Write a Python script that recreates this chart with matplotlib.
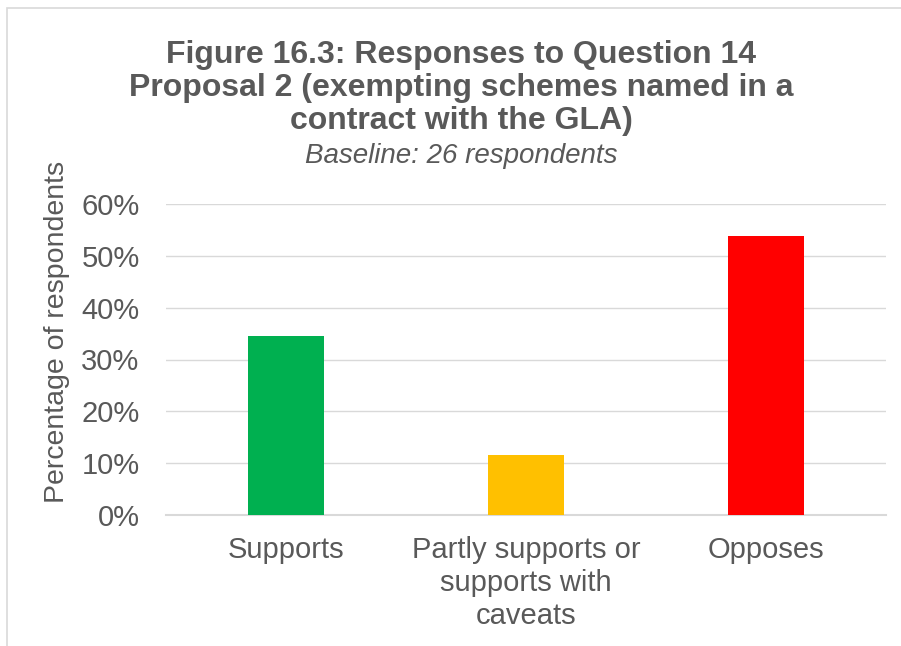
import matplotlib
matplotlib.use('Agg')
import matplotlib.pyplot as plt
from matplotlib.patches import Rectangle
from matplotlib.ticker import PercentFormatter

plt.rcParams['font.family'] = ['Liberation Sans', 'DejaVu Sans']

# Responses out of 26
categories = ['Supports', 'Partly supports or\nsupports with\ncaveats', 'Opposes']
counts = [9, 3, 14]
total = 26
shares = [c / total for c in counts]
bar_colors = ['#00B050', '#FFC000', '#FF0000']
yticks = [0, 0.1, 0.2, 0.3, 0.4, 0.5, 0.6]

title_lines = ['Figure 16.3: Responses to Question 14',
               'Proposal 2 (exempting schemes named in a',
               'contract with the GLA)']
subtitle = 'Baseline: 26 respondents'

text_col = '#595959'
grid_col = '#D9D9D9'

W, H = 901, 646
fig = plt.figure(figsize=(W / 100, H / 100), dpi=100)
ax = fig.add_axes([166 / W, 1 - 515 / H, 720 / W, 311 / H])

# outer chart frame
fig.patches.append(Rectangle((7 / W, -0.1), 1.2, 1 - 8 / H + 0.1, transform=fig.transFigure,
                             fill=False, edgecolor=grid_col, linewidth=1.2))

x = range(len(categories))
ax.bar(x, shares, width=0.32, color=bar_colors, zorder=3)

ax.set_xlim(-0.5, 2.5)
ax.set_ylim(0, 0.6)
ax.set_yticks(yticks)
ax.yaxis.set_major_formatter(PercentFormatter(1.0, decimals=0))
ax.set_xticks(list(x))
ax.set_xticklabels(categories, linespacing=1.24)
ax.grid(axis='y', color=grid_col, linewidth=1.0, zorder=0)
for side in ['left', 'right', 'top']:
    ax.spines[side].set_visible(False)
ax.spines['bottom'].set_color(grid_col)
ax.spines['bottom'].set_linewidth(1.5)
ax.tick_params(axis='both', length=0, labelsize=21, colors=text_col)
ax.tick_params(axis='y', pad=19)
ax.tick_params(axis='x', pad=15)

fig.text(57 / W, 1 - 332 / H, 'Percentage of respondents', rotation=90,
         ha='center', va='center', fontsize=20.5, color=text_col)

for i, line in enumerate(title_lines):
    fig.text(461 / W, 1 - (63 + 33 * i) / H, line, ha='center', va='baseline',
             fontsize=23, fontweight='bold', color=text_col)
fig.text(461 / W, 1 - 163 / H, subtitle, ha='center', va='baseline',
         fontsize=20, style='italic', color=text_col)

fig.savefig('out.png', dpi=100)
